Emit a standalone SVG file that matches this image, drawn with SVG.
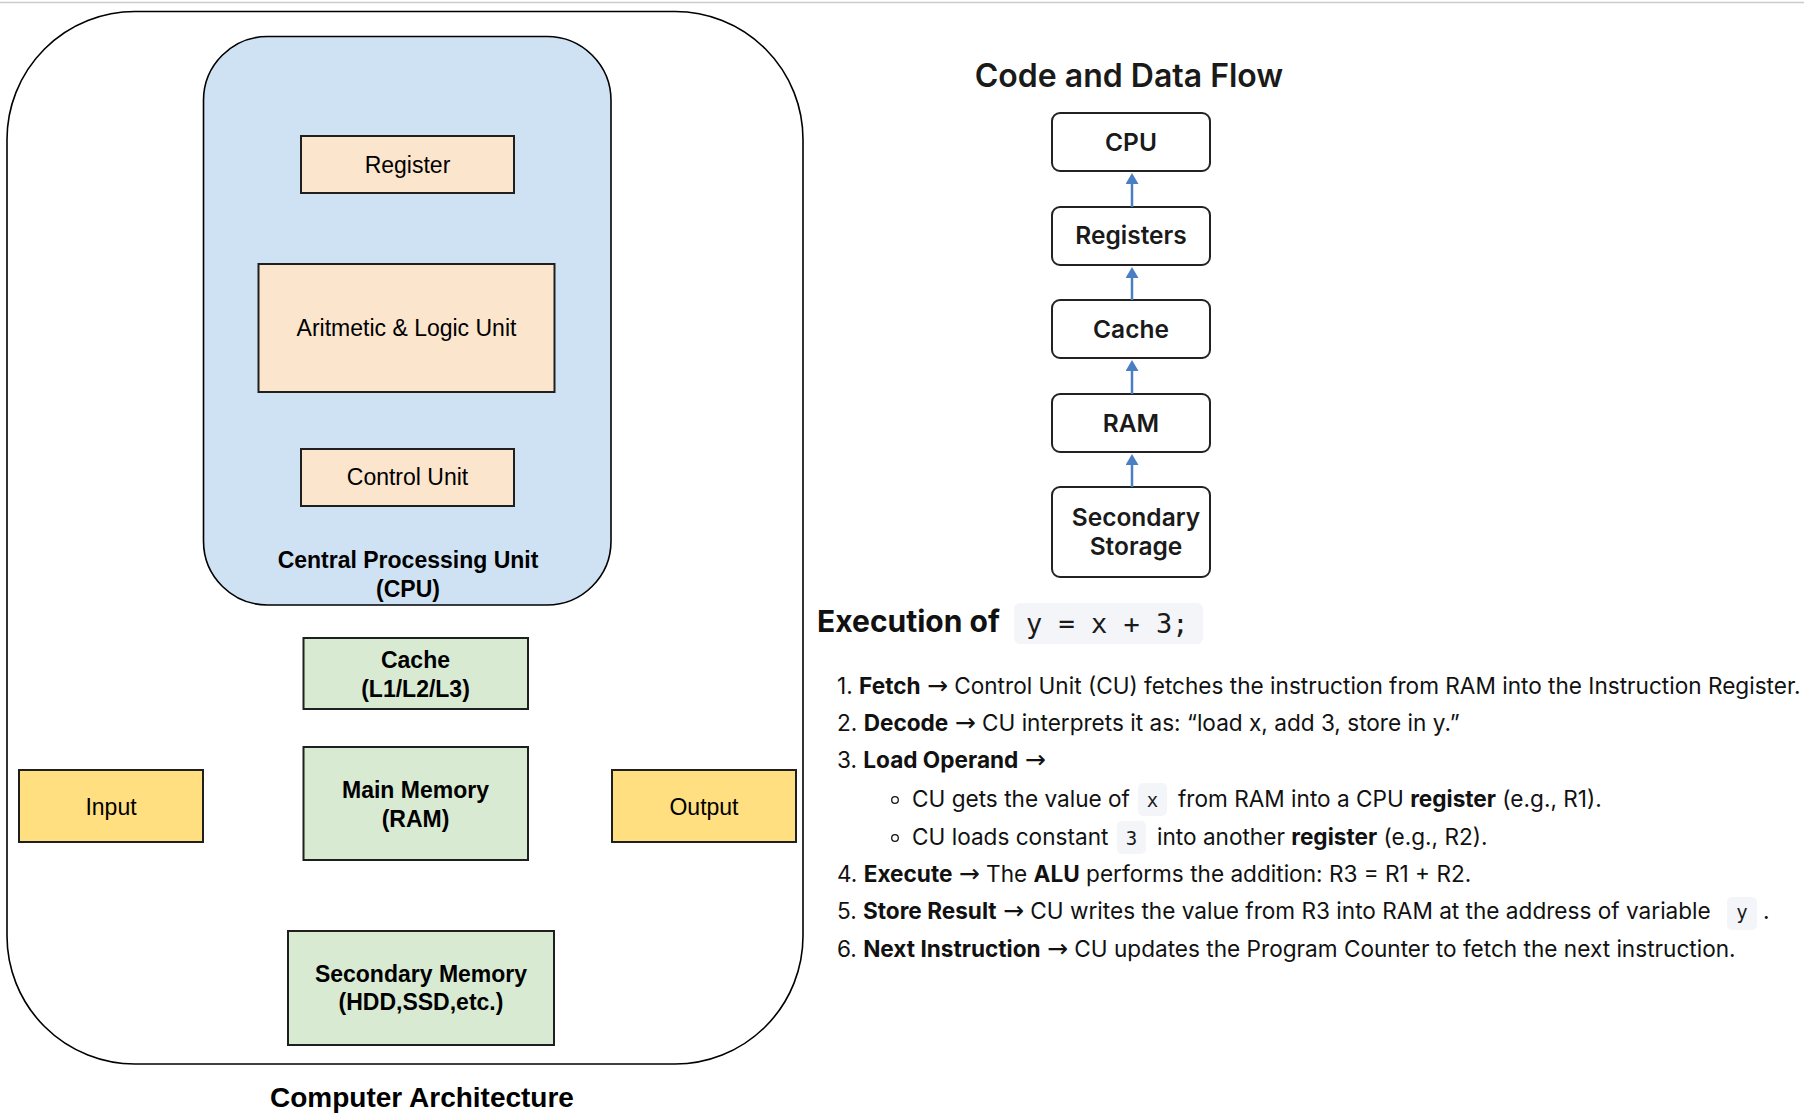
<svg xmlns="http://www.w3.org/2000/svg" width="1804" height="1120" viewBox="0 0 1804 1120">
<defs>
<style>
.arch{font-family:"Liberation Sans",Arial,sans-serif;font-size:23px;fill:#000}
.b{font-weight:bold}
.box{stroke:#1f1f1f;stroke-width:2}
.orange{fill:#fce5cd}
.green{fill:#d9ead3}
.yellow{fill:#ffdf7f}
.flow{fill:#fff;stroke:#222;stroke-width:2}
.ft{font-family:Inter,"Noto Sans",sans-serif;font-size:24.5px;font-weight:600;fill:#1a1a1a}
.li{font-family:Inter,"Noto Sans",sans-serif;font-size:22.6px;fill:#111}
.ar{font-family:Roboto,"DejaVu Sans",sans-serif;font-size:25px}
.code{fill:#f3f5f8}
.mono{font-family:"DejaVu Sans Mono","Liberation Mono",monospace;fill:#1a1a1a}
.conn{stroke:#4a7fc3;stroke-width:2.5;fill:none}
</style>
<marker id="ah" viewBox="0 0 11 13" refX="0" refY="6.5" markerWidth="11" markerHeight="13" orient="auto" markerUnits="userSpaceOnUse">
<path d="M0,0 L11,6.5 L0,13 z" fill="#4a7fc3"/>
</marker>
</defs>
<rect width="1804" height="1120" fill="#fff"/>
<line x1="0" y1="2.5" x2="1804" y2="2.5" stroke="#cccccc" stroke-width="1.5"/>

<g id="computer">
<rect x="7" y="11.5" width="796" height="1052.5" rx="128" ry="128" fill="#fff" stroke="#000" stroke-width="1.6"/>
</g>
<g id="cpu">
<rect x="203.5" y="36.5" width="407.5" height="568.5" rx="64" ry="64" fill="#cfe2f3" stroke="#000" stroke-width="1.6"/>
<text class="arch b" x="408" y="568" text-anchor="middle">Central Processing Unit</text>
<text class="arch b" x="408" y="597" text-anchor="middle">(CPU)</text>
</g>
<g id="register">
<rect class="box orange" x="301" y="136" width="213" height="57"/>
<text class="arch" x="407.5" y="173" text-anchor="middle">Register</text>
</g>
<g id="alu">
<rect class="box orange" x="258.5" y="264" width="296" height="128"/>
<text class="arch" x="406.5" y="336" text-anchor="middle">Aritmetic &amp; Logic Unit</text>
</g>
<g id="control-unit">
<rect class="box orange" x="301" y="449" width="213" height="57"/>
<text class="arch" x="407.5" y="485" text-anchor="middle">Control Unit</text>
</g>
<g id="cache">
<rect class="box green" x="303.5" y="638" width="224.5" height="71"/>
<text class="arch b" x="415.5" y="668" text-anchor="middle">Cache</text>
<text class="arch b" x="415.5" y="697" text-anchor="middle">(L1/L2/L3)</text>
</g>
<g id="main-memory">
<rect class="box green" x="303.5" y="747" width="224.5" height="113"/>
<text class="arch b" x="415.5" y="798" text-anchor="middle">Main Memory</text>
<text class="arch b" x="415.5" y="827" text-anchor="middle">(RAM)</text>
</g>
<g id="input">
<rect class="box yellow" x="19" y="770" width="184" height="72"/>
<text class="arch" x="111" y="815" text-anchor="middle">Input</text>
</g>
<g id="output">
<rect class="box yellow" x="612" y="770" width="184" height="72"/>
<text class="arch" x="704" y="815" text-anchor="middle">Output</text>
</g>
<g id="secondary-memory">
<rect class="box green" x="288" y="931" width="266" height="114"/>
<text class="arch b" x="421" y="982" text-anchor="middle">Secondary Memory</text>
<text class="arch b" x="421" y="1010" text-anchor="middle">(HDD,SSD,etc.)</text>
</g>
<text id="arch-title" class="arch b" x="422" y="1107" text-anchor="middle" style="font-size:28px">Computer Architecture</text>

<text id="flow-title" x="1129" y="87" text-anchor="middle" style="font-family:Inter,'Noto Sans',sans-serif;font-size:32px;font-weight:600;fill:#1a1a1a">Code and Data Flow</text>
<g id="f-cpu">
<rect class="flow" x="1052" y="113" width="158" height="58" rx="8"/>
<text class="ft" x="1131" y="151" text-anchor="middle">CPU</text>
</g>
<g id="f-registers">
<rect class="flow" x="1052" y="207" width="158" height="58" rx="8"/>
<text class="ft" x="1131" y="244" text-anchor="middle">Registers</text>
</g>
<g id="f-cache">
<rect class="flow" x="1052" y="300" width="158" height="58" rx="8"/>
<text class="ft" x="1131" y="338" text-anchor="middle">Cache</text>
</g>
<g id="f-ram">
<rect class="flow" x="1052" y="394" width="158" height="58" rx="8"/>
<text class="ft" x="1131" y="432" text-anchor="middle">RAM</text>
</g>
<g id="f-secondary">
<rect class="flow" x="1052" y="487" width="158" height="90" rx="8"/>
<text class="ft" x="1136" y="526" text-anchor="middle">Secondary</text>
<text class="ft" x="1136" y="555" text-anchor="middle">Storage</text>
</g>
<g id="connectors">
<line class="conn" x1="1132" y1="207" x2="1132" y2="184" marker-end="url(#ah)"/>
<line class="conn" x1="1132" y1="300" x2="1132" y2="278" marker-end="url(#ah)"/>
<line class="conn" x1="1132" y1="394" x2="1132" y2="371" marker-end="url(#ah)"/>
<line class="conn" x1="1132" y1="487" x2="1132" y2="465" marker-end="url(#ah)"/>
</g>

<g id="execution">
<text x="817" y="632" style="font-family:Inter,'Noto Sans',sans-serif;font-size:30px;font-weight:bold;fill:#111">Execution of</text>
<rect class="code" x="1014" y="603" width="189" height="41" rx="6"/>
<text class="mono" x="1026" y="633" style="font-size:27px" xml:space="preserve">y = x + 3;</text>

<text class="li" x="837" y="694">1. <tspan font-weight="bold">Fetch</tspan> <tspan class="ar">→</tspan> Control Unit (CU) fetches the instruction from RAM into the Instruction Register.</text>
<text class="li" x="837" y="731">2. <tspan font-weight="bold">Decode</tspan> <tspan class="ar">→</tspan> CU interprets it as: “load x, add 3, store in y.”</text>
<text class="li" x="837" y="768">3. <tspan font-weight="bold">Load Operand</tspan> <tspan class="ar">→</tspan></text>
<circle cx="895" cy="800" r="3.3" fill="none" stroke="#111" stroke-width="1.3"/>
<text class="li" x="912" y="807">CU gets the value of</text>
<rect class="code" x="1138" y="783" width="29" height="33" rx="5"/>
<text class="mono" x="1152.5" y="807" text-anchor="middle" style="font-size:19px">x</text>
<text class="li" x="1178" y="807">from RAM into a CPU <tspan font-weight="bold">register</tspan> (e.g., R1).</text>
<circle cx="895" cy="838" r="3.3" fill="none" stroke="#111" stroke-width="1.3"/>
<text class="li" x="912" y="845">CU loads constant</text>
<rect class="code" x="1117" y="821" width="29" height="33" rx="5"/>
<text class="mono" x="1131.5" y="845" text-anchor="middle" style="font-size:19px">3</text>
<text class="li" x="1157" y="845">into another <tspan font-weight="bold">register</tspan> (e.g., R2).</text>
<text class="li" x="837" y="882">4. <tspan font-weight="bold">Execute</tspan> <tspan class="ar">→</tspan> The <tspan font-weight="bold">ALU</tspan> performs the addition: R3 = R1 + R2.</text>
<text class="li" x="837" y="919">5. <tspan font-weight="bold">Store Result</tspan> <tspan class="ar">→</tspan> CU writes the value from R3 into RAM at the address of variable</text>
<rect class="code" x="1727" y="897" width="30" height="33" rx="5"/>
<text class="mono" x="1742" y="919" text-anchor="middle" style="font-size:19px">y</text>
<text class="li" x="1763" y="919">.</text>
<text class="li" x="837" y="957">6. <tspan font-weight="bold">Next Instruction</tspan> <tspan class="ar">→</tspan> CU updates the Program Counter to fetch the next instruction.</text>
</g>
</svg>
